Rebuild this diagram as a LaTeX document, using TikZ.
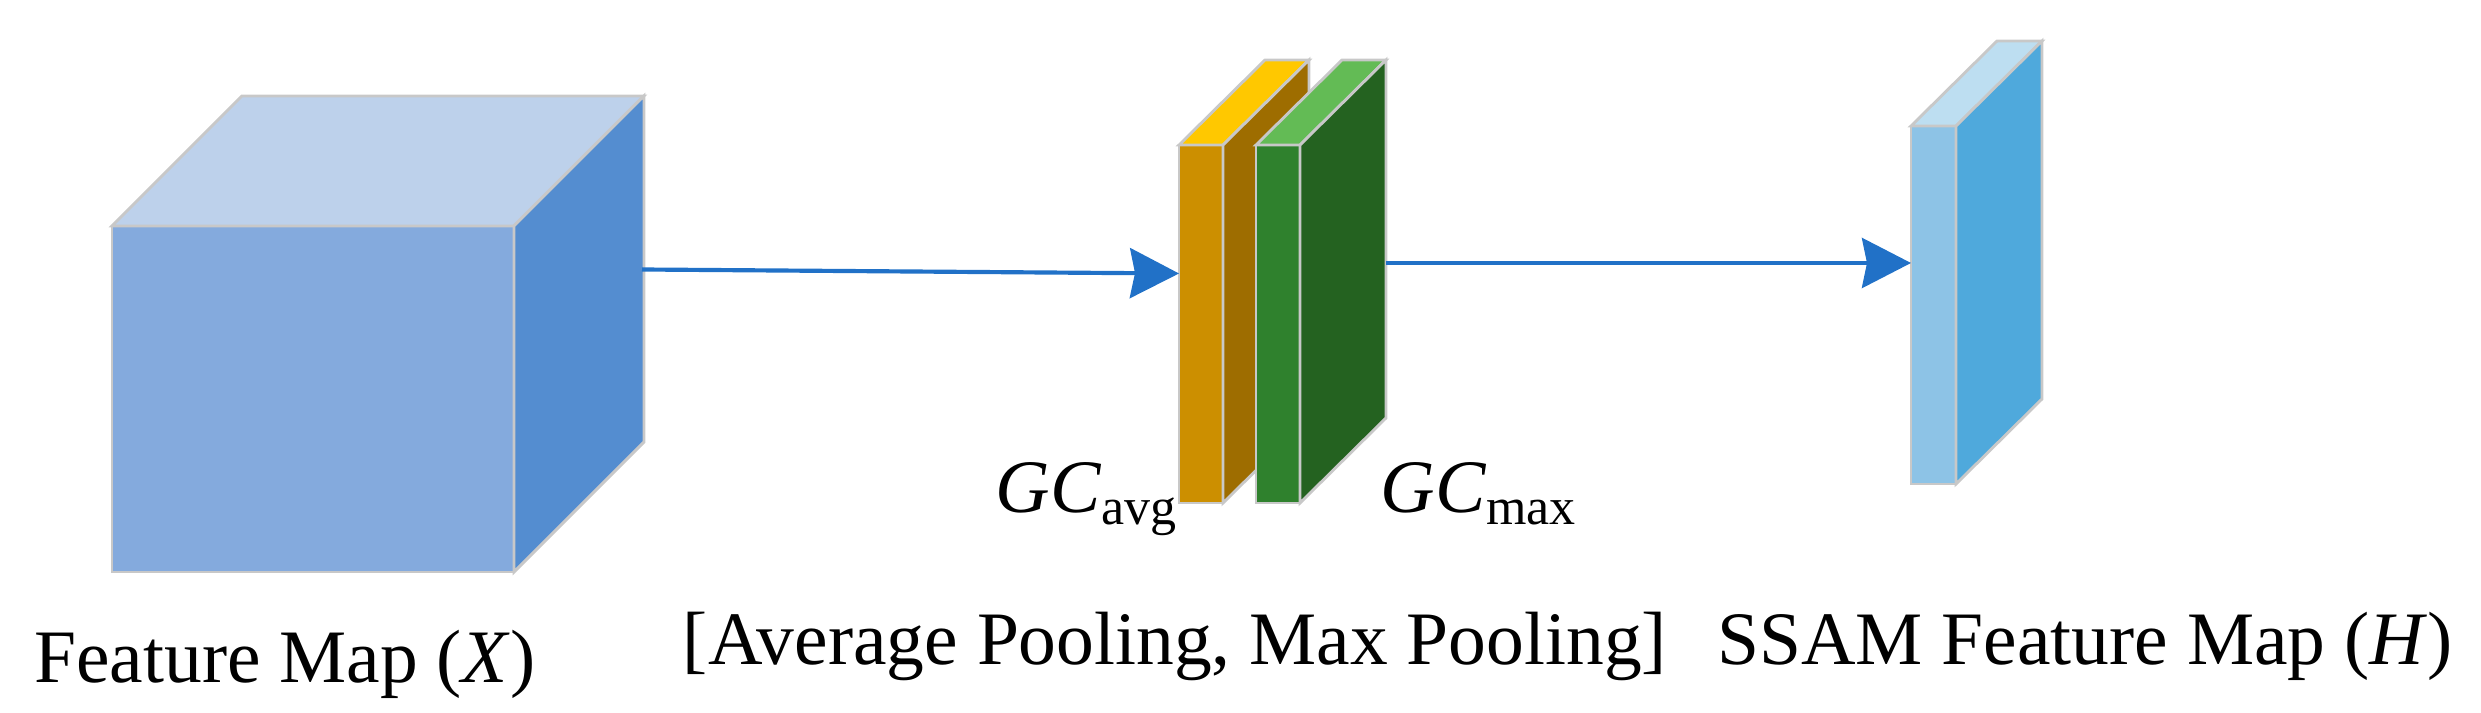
\documentclass[tikz,border=0pt]{standalone}
\usepackage{fontspec}
\setmainfont{Liberation Serif}
\usetikzlibrary{arrows.meta}
\definecolor{edgegray}{HTML}{C8C8C8}
\definecolor{cubefront}{HTML}{84AADD}
\definecolor{cubetop}{HTML}{BDD1EB}
\definecolor{cuberight}{HTML}{548DD0}
\definecolor{yfront}{HTML}{CC8F00}
\definecolor{ytop}{HTML}{FFC800}
\definecolor{yright}{HTML}{9E6D00}
\definecolor{gfront}{HTML}{2F812D}
\definecolor{gtop}{HTML}{63BB55}
\definecolor{gright}{HTML}{246220}
\definecolor{sfront}{HTML}{8DC3E6}
\definecolor{stop}{HTML}{BDDEF1}
\definecolor{sright}{HTML}{4FA9DC}
\definecolor{arrowblue}{HTML}{2171C7}
\tikzset{
  face/.style={draw=edgegray, line width=0.85pt, line join=miter},
  flow/.style={draw=arrowblue, line width=1.25pt, -{Stealth[length=14.7pt, width=15pt, inset=1.5pt]}},
  lbl/.style={inner sep=0pt, font=\fontsize{22.65}{26}\selectfont, anchor=base},
  gclbl/.style={inner sep=0pt, font=\fontsize{22.65}{26}\selectfont, anchor=base west}
}
\newcommand{\subtxt}[1]{\raisebox{-3.6pt}{\fontsize{15.6}{17}\selectfont #1}}
\begin{document}
\begin{tikzpicture}[x=0.3pt, y=-0.3pt]
\useasboundingbox (0,0) rectangle (2481,713);
% Cube (Feature Map X)
\path[face, fill=cubefront] (112,226) rectangle (514,572);
\path[face, fill=cubetop] (112,226) -- (242,96) -- (644,96) -- (514,226) -- cycle;
\path[face, fill=cuberight] (514,226) -- (644,96) -- (644,442) -- (514,572) -- cycle;
\coordinate (cubeout) at (642,269.5);
% Yellow slab (GC avg)
\path[face, fill=yfront] (1179,145) rectangle (1223,503);
\path[face, fill=ytop] (1179,145) -- (1265,60) -- (1309,60) -- (1223,145) -- cycle;
\path[face, fill=yright] (1223,145) -- (1309,60) -- (1309,418) -- (1223,503) -- cycle;
\coordinate (avgin) at (1179,273.5);
% Green slab (GC max)
\path[face, fill=gfront] (1256,145) rectangle (1300,503);
\path[face, fill=gtop] (1256,145) -- (1342,60) -- (1386,60) -- (1300,145) -- cycle;
\path[face, fill=gright] (1300,145) -- (1386,60) -- (1386,418) -- (1300,503) -- cycle;
\coordinate (maxout) at (1386,263);
% SSAM slab (H)
\path[face, fill=sfront] (1911,126) rectangle (1956,484);
\path[face, fill=stop] (1911,126) -- (1997,41) -- (2042,41) -- (1956,126) -- cycle;
\path[face, fill=sright] (1956,126) -- (2042,41) -- (2042,399) -- (1956,484) -- cycle;
\coordinate (ssamin) at (1911,263);
% Connectors
\draw[flow] (cubeout) -- (avgin);
\draw[flow] (maxout) -- (ssamin);
% Labels
\node[gclbl] (gcavg) at (995,513) {\textit{GC}\subtxt{avg}};
\node[gclbl] (gcmax) at (1380,513) {\textit{GC}\subtxt{max}};
\node[lbl] (lx) at (285,683) {Feature Map (\textit{X})};
\node[lbl] (lpool) at (1175,665) {[Average Pooling, Max Pooling]};
\node[lbl] (lh) at (2085,665) {SSAM Feature Map (\textit{H})};
\end{tikzpicture}
\end{document}
